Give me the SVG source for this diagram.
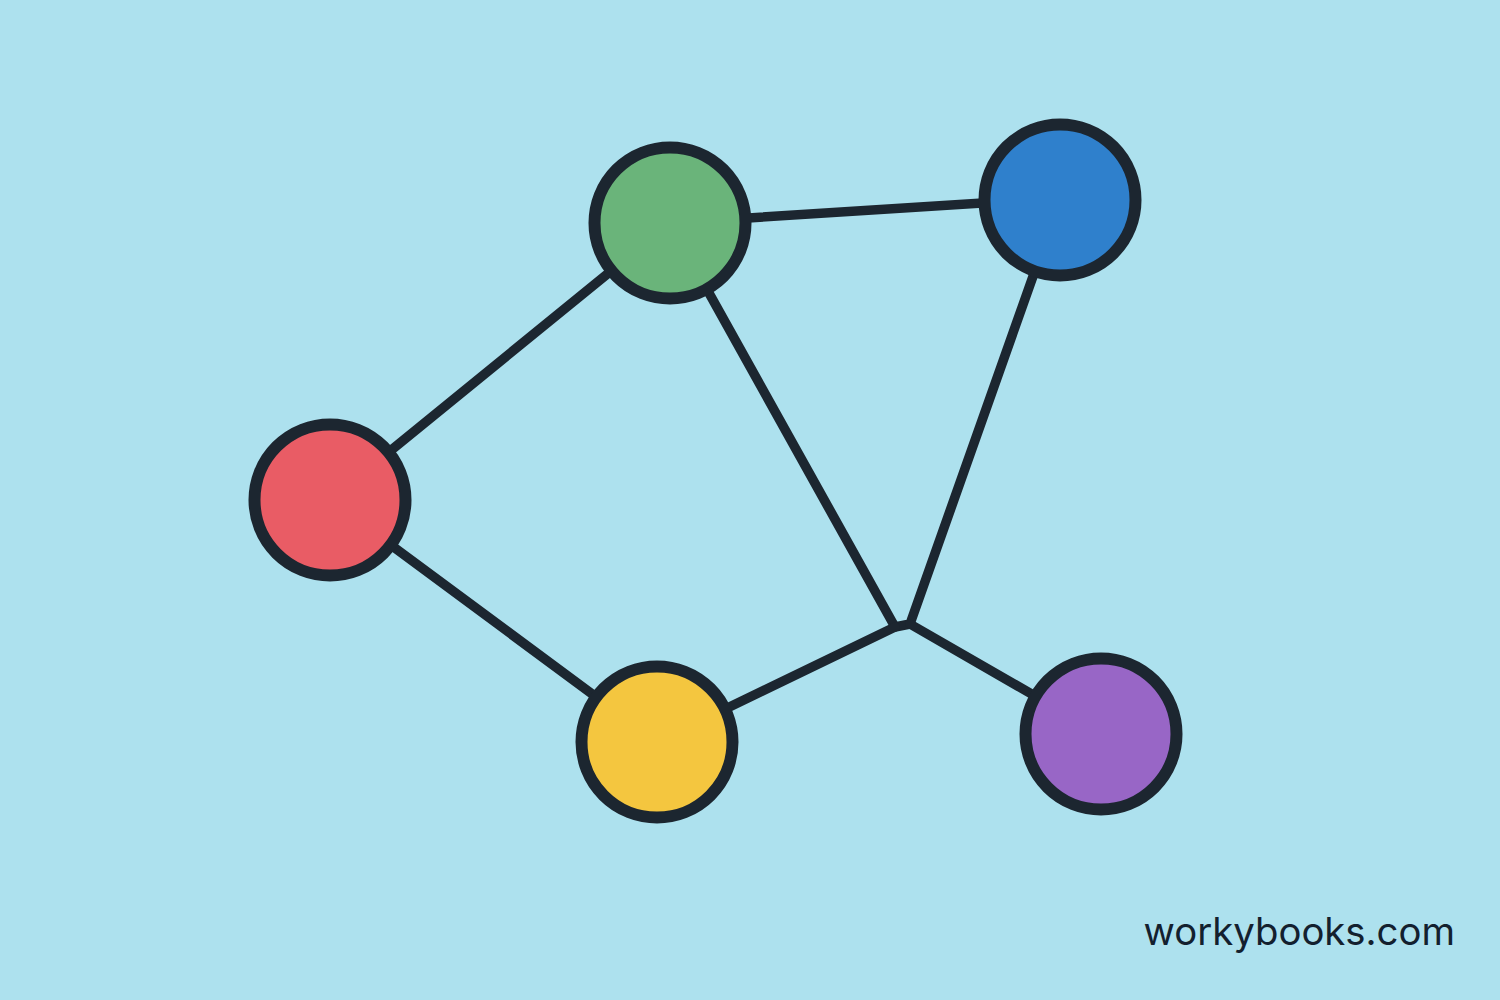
<svg xmlns="http://www.w3.org/2000/svg" width="1500" height="1000" viewBox="0 0 1500 1000">
<style>
.edge{stroke:#1c2630;stroke-width:9.5;stroke-linecap:round;stroke-linejoin:round;fill:none}
.node{stroke:#1c2630;stroke-width:12}
.brand{font-family:Inter,"Liberation Sans",sans-serif;font-size:38.3px;fill:#13202e}
</style>
<rect width="1500" height="1000" fill="#ade1ee"/>
<g id="connectors">
<line class="edge" x1="330" y1="500" x2="670" y2="223"/>
<line class="edge" x1="330" y1="500" x2="657" y2="742"/>
<line class="edge" x1="670" y1="223" x2="1060" y2="198"/>
<polyline class="edge" points="670,223 895,627 910,624 1060,200"/>
<polyline class="edge" points="657,742 895,627"/>
<polyline class="edge" points="910,624 1101,734"/>
</g>
<g id="node-red"><circle class="node" cx="330" cy="500" r="75.5" fill="#e95c65"/></g>
<g id="node-green"><circle class="node" cx="670" cy="223" r="75.5" fill="#6ab47a"/></g>
<g id="node-blue"><circle class="node" cx="1060" cy="200" r="75.5" fill="#2f80cc"/></g>
<g id="node-yellow"><circle class="node" cx="657" cy="742" r="75.5" fill="#f4c63f"/></g>
<g id="node-purple"><circle class="node" cx="1101" cy="734" r="75.5" fill="#9866c6"/></g>
<text class="brand" x="1455" y="945" text-anchor="end">workybooks.com</text>
</svg>
